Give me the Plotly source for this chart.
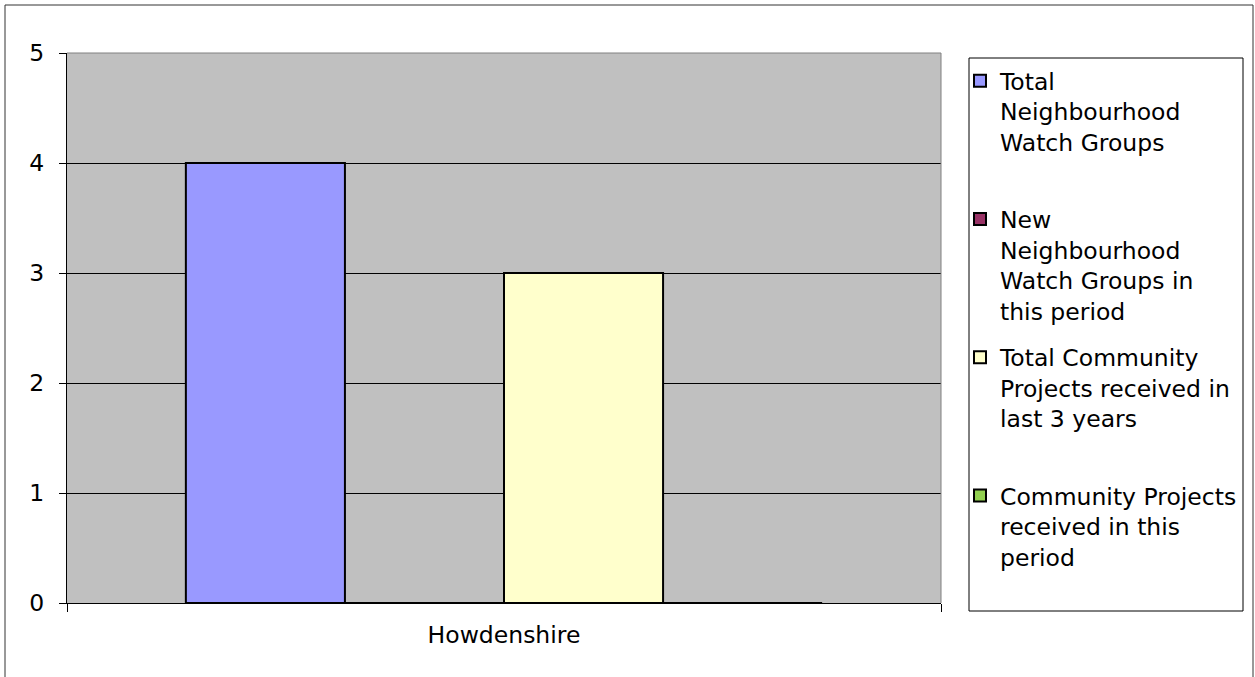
import plotly.graph_objects as go

categories = ["Howdenshire"]
series_names = [
    "Total<br>Neighbourhood<br>Watch Groups<br> ",
    "New<br>Neighbourhood<br>Watch Groups in<br>this period",
    "Total Community<br>Projects received in<br>last 3 years<br> ",
    "Community Projects<br>received in this<br>period<br> ",
]
series_values = [[4], [0], [3], [0]]
series_colors = ["#9999FF", "#993366", "#FFFFCC", "#92D050"]
y_ticks = [0, 1, 2, 3, 4, 5]

W, H = 1255, 677
L, R, T, B = 67, 941, 53, 603
pw, ph = R - L, B - T

def px(x):
    return (x - L) / pw

def py(y):
    return (B - y) / ph

fig = go.Figure()
for i, (name, vals, col) in enumerate(zip(series_names, series_values, series_colors)):
    fig.add_trace(go.Bar(
        x=categories, y=vals, name=name,
        marker=dict(color=col, line=dict(color="#000000", width=2)),
        legendgroup=f"g{i}",
    ))

FONT = "DejaVu Sans, Verdana, sans-serif"
FS = 23.5

fig.update_layout(
    width=W, height=H,
    margin=dict(l=L, r=W - R, t=T, b=H - B),
    paper_bgcolor="white",
    plot_bgcolor="#C0C0C0",
    barmode="group",
    bargap=0.272,
    bargroupgap=0,
    font=dict(family=FONT, size=FS, color="#000000"),
    showlegend=True,
    legend=dict(
        xref="container", yref="container",
        x=960 / W, y=1 - 59 / H,
        xanchor="left", yanchor="top",
        bgcolor="rgba(0,0,0,0)", borderwidth=0,
        font=dict(family=FONT, size=FS, color="#000000"),
        tracegroupgap=13,
        valign="top",
        traceorder="grouped",
        maxheight=670,
    ),
    xaxis=dict(
        range=[-0.5, 0.5],
        showline=True, linecolor="#000000", linewidth=1,
        ticks="outside", tickson="boundaries", ticklen=8, tickcolor="#000000",
        showgrid=False,
        tickfont=dict(family=FONT, size=FS),
        ticklabelstandoff=11,
    ),
    yaxis=dict(
        range=[0, 5],
        tickvals=y_ticks,
        showline=True, linecolor="#000000", linewidth=1,
        ticks="outside", ticklen=7, tickcolor="#000000",
        showgrid=True, gridcolor="#000000", gridwidth=1,
        zeroline=False,
        tickfont=dict(family=FONT, size=FS),
        ticklabelstandoff=10,
    ),
    shapes=[
        dict(type="line", xref="paper", yref="paper", x0=0, x1=1, y0=1, y1=1,
             line=dict(color="#808080", width=1), layer="above"),
        dict(type="line", xref="paper", yref="paper", x0=1, x1=1, y0=0, y1=1,
             line=dict(color="#808080", width=1), layer="above"),
        dict(type="rect", xref="paper", yref="paper",
             x0=px(969), x1=px(1243), y0=py(611), y1=py(58),
             line=dict(color="#000000", width=1), fillcolor="rgba(0,0,0,0)", layer="below"),
        dict(type="rect", xref="paper", yref="paper",
             x0=px(5), x1=px(1253), y0=py(700), y1=py(5),
             line=dict(color="#333333", width=1), fillcolor="rgba(0,0,0,0)", layer="below"),
    ],
)

fig.write_html(
    "out.html",
    config={"displayModeBar": False},
    post_script="document.body.style.margin='0';document.body.style.overflow='hidden';",
)
